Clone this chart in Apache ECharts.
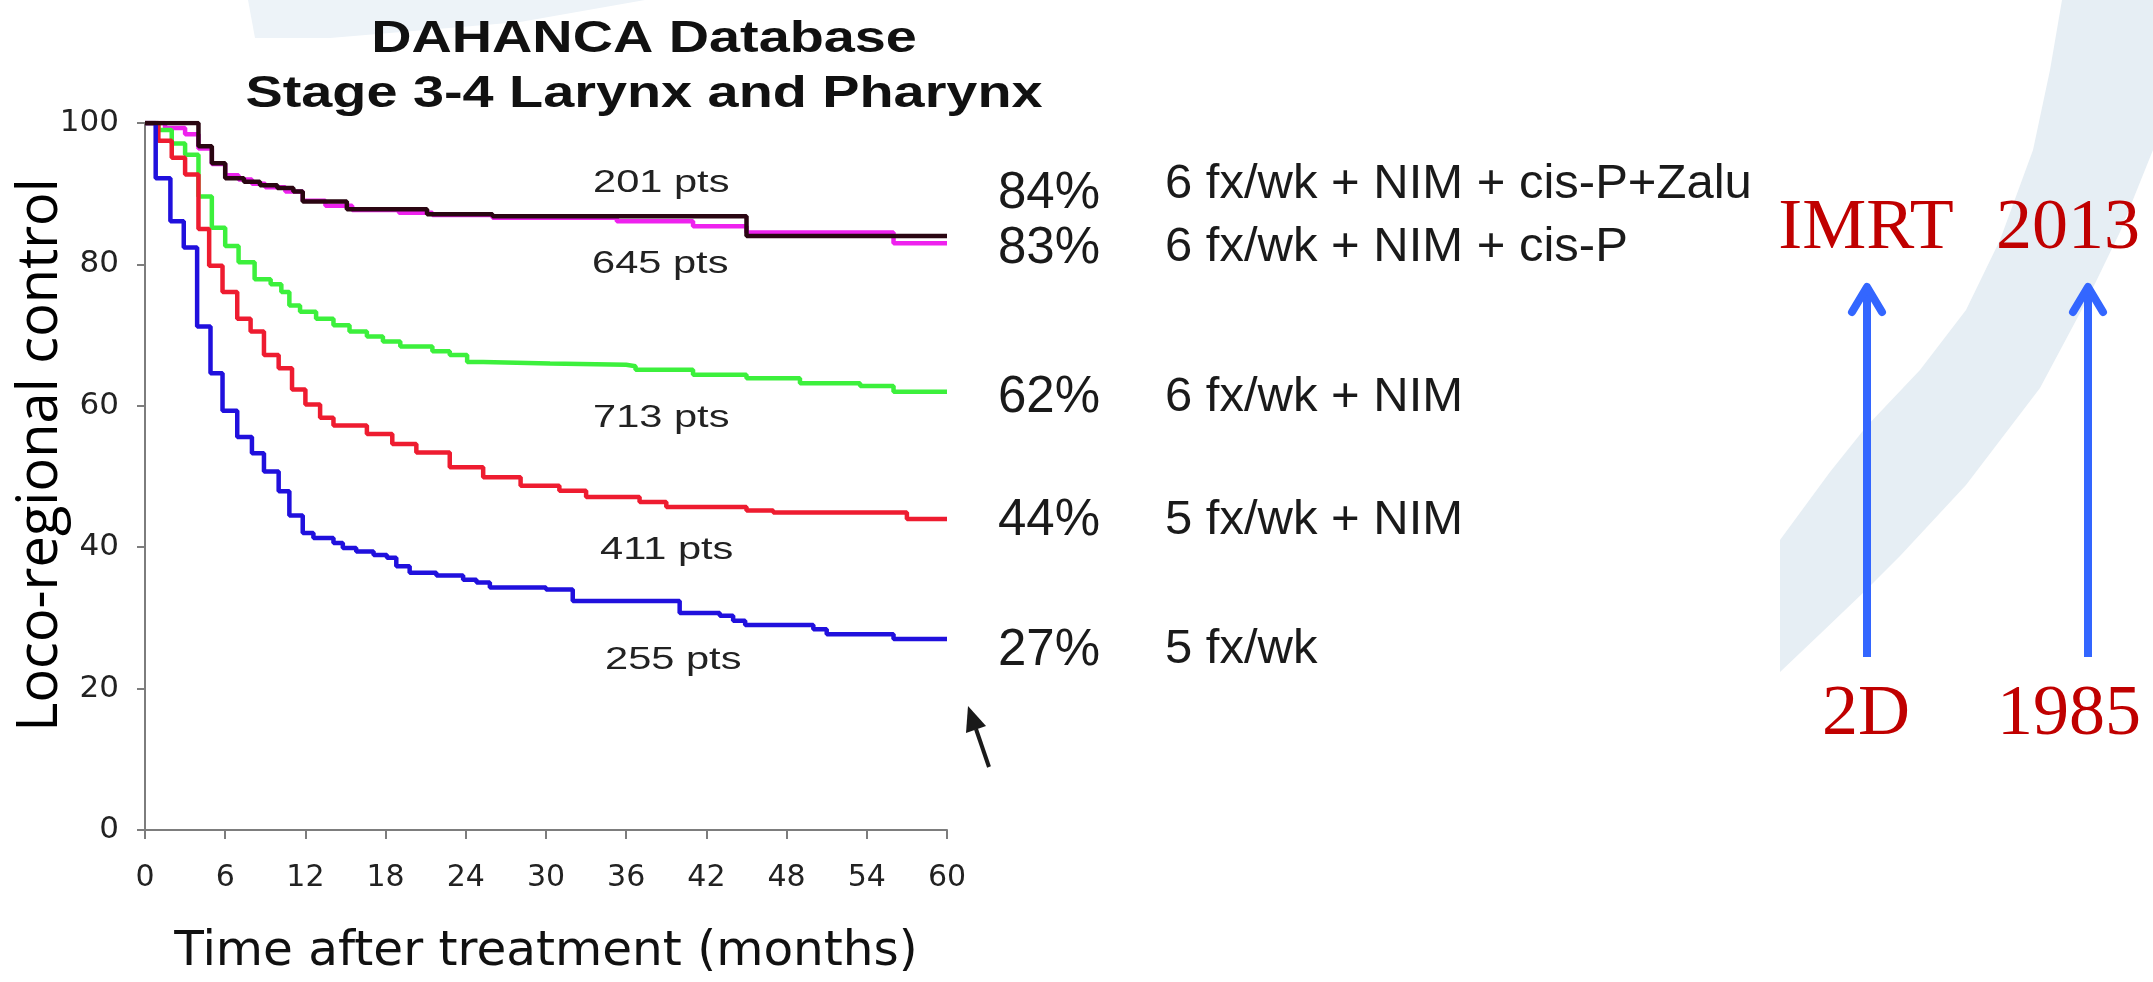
<!DOCTYPE html>
<html>
<head>
<meta charset="utf-8">
<script src="https://cdn.jsdelivr.net/npm/echarts@6/dist/echarts.min.js"></script>
<style>
  html, body { margin: 0; padding: 0; background: #ffffff; }
  #chart { width: 2153px; height: 982px; }
</style>
</head>
<body>
<div id="chart"></div>
<script>
// Loco-regional control (%) by month; each pair is [month, value after the step]
const zaluCurve = [[0,100],[4,96.7],[5,94.3],[6,92.2],[7.4,91.7],[8.6,91.2],[9.9,90.8],[11.1,90.3],[11.8,88.9],[15.1,87.8],[21.1,87.1],[26,86.8],[45,84],[60,84]];
const cisPCurve = [[0,100],[1.5,99.3],[3,98.4],[4,96.4],[5,94.2],[6,92.6],[7,92.0],[8,91.4],[9,90.9],[10.5,90.3],[11.8,89.0],[13.5,88.3],[15.5,87.7],[19,87.3],[21.5,87.0],[26,86.6],[35.3,86.1],[41,85.4],[45,84.5],[56,83],[60,83]];
const sixNimCurve = [[0,100],[1,99.0],[2,97.1],[3,95.5],[4,89.6],[5,85.2],[6,82.6],[7,80.3],[8.2,77.9],[9.4,77.2],[10.2,76.1],[10.8,74.2],[11.6,73.3],[12.8,72.3],[14.1,71.4],[15.3,70.5],[16.6,69.8],[17.8,69.1],[19.1,68.4],[21.5,67.7],[22.8,67.2],[24.1,66.2],[25.3,66.0],[30.3,65.8],[36,65.6],[36.7,65.1],[41,64.4],[45,63.9],[49,63.2],[53.5,62.8],[56,62],[60,62]];
const fiveNimCurve = [[0,100],[1,97.5],[2,95.1],[3,92.7],[4,85.0],[4.8,79.8],[5.8,76.1],[6.9,72.3],[7.9,70.5],[8.9,67.2],[10,65.3],[11,62.3],[12,60.2],[13.1,58.3],[14.1,57.2],[16.6,56.0],[18.5,54.6],[20.3,53.4],[22.8,51.3],[25.3,49.9],[28.1,48.7],[31,48.0],[33,47.1],[37,46.4],[39,45.7],[45,45.2],[47,44.9],[57,44],[60,44]];
const fiveCurve = [[0,100],[0.8,92.2],[1.9,86.1],[2.9,82.4],[3.9,71.2],[4.9,64.6],[5.8,59.3],[6.9,55.6],[8,53.3],[8.9,50.7],[10,47.9],[10.8,44.5],[11.8,42.0],[12.6,41.3],[14.1,40.6],[14.8,39.9],[15.8,39.4],[17.1,38.9],[18.1,38.5],[18.8,37.3],[19.8,36.4],[21.8,36.0],[23.8,35.4],[24.8,35.0],[25.8,34.3],[30,34.0],[32,32.4],[40,30.7],[43,30.3],[44,29.6],[44.9,29.0],[50,28.4],[51,27.7],[56,27],[60,27]];

const groupNames = ['6 fx/wk + NIM + cis-P+Zalu', '6 fx/wk + NIM + cis-P', '6 fx/wk + NIM', '5 fx/wk + NIM', '5 fx/wk'];
const patientCounts = ['201 pts', '645 pts', '713 pts', '411 pts', '255 pts'];
const fiveYearRates = [84, 83, 62, 44, 27];
const monthTicks = [0, 6, 12, 18, 24, 30, 36, 42, 48, 54, 60];
const controlTicks = [0, 20, 40, 60, 80, 100];
const eraLabels = ['IMRT', '2D', '2013', '1985'];

const curves = [zaluCurve, cisPCurve, sixNimCurve, fiveNimCurve, fiveCurve];
const curveColors = ['#2a0612', '#ee22ee', '#3cf03c', '#ee1c30', '#2010dd'];
const drawOrder = [1, 0, 2, 3, 4];

const chart = echarts.init(document.getElementById('chart'), null, { renderer: 'canvas' });

function txt(text, x, y, o) {
  return {
    type: 'text', x: x, y: y, z: 20,
    rotation: o.rotation || 0,
    scaleX: o.scaleX || 1,
    style: {
      text: text,
      fontSize: o.size,
      fontFamily: o.family || '"Liberation Sans", Arial, sans-serif',
      fontWeight: o.weight || 'normal',
      fill: o.color || '#1a1a1a',
      align: o.align || 'left', textAlign: o.align || 'left',
      verticalAlign: 'middle', textVerticalAlign: 'middle'
    }
  };
}

const serifRed = { size: 72, family: '"Liberation Serif", "Times New Roman", serif', color: '#c00000', align: 'center' };
const ptsStyle = { size: 32, scaleX: 1.3, color: '#222' };
const ptsPos = [[593, 183.6], [592, 264.5], [593, 418.6], [600, 550.6], [605, 660]];
const ratePos = [194, 249.3, 398, 521, 651];
const groupPos = [184.7, 247, 397.8, 520.5, 649.5];

const graphicEls = [
  // pale band of the slide background
  { type: 'polygon', z: 0, silent: true,
    shape: { points: [[1780,540],[1830,472],[1866,427],[1920,370],[1966,310],[2000,240],[2033,150],[2050,70],[2062,0],[2153,0],[2153,150],[2120,232],[2088,298],[2040,388],[1966,485],[1900,556],[1866,590],[1820,634],[1780,672]] },
    style: { fill: '#e6eef4' } },
  { type: 'polygon', z: 0, silent: true,
    shape: { points: [[248,0],[645,0],[520,22],[330,38],[255,38]] },
    style: { fill: '#edf3f8' } },
  // chart heading
  txt('DAHANCA Database', 644, 39.5, { size: 45, weight: 'bold', scaleX: 1.24, align: 'center', color: '#111' }),
  txt('Stage 3-4 Larynx and Pharynx', 644, 94.5, { size: 45, weight: 'bold', scaleX: 1.24, align: 'center', color: '#111' }),
  // vertical axis title
  txt('Loco-regional control', 41, 455, { size: 56, family: '"Open Sans", sans-serif', rotation: Math.PI / 2, align: 'center', color: '#000' }),
  // era arrows
  { type: 'line', z: 20, shape: { x1: 1867, y1: 657, x2: 1867, y2: 288 }, style: { stroke: '#3366ff', lineWidth: 8 } },
  { type: 'polyline', z: 20, shape: { points: [[1852,312],[1867,287],[1882,312]] }, style: { stroke: '#3366ff', lineWidth: 8, lineCap: 'round', lineJoin: 'round', fill: null } },
  { type: 'line', z: 20, shape: { x1: 2088, y1: 657, x2: 2088, y2: 288 }, style: { stroke: '#3366ff', lineWidth: 8 } },
  { type: 'polyline', z: 20, shape: { points: [[2073,312],[2088,287],[2103,312]] }, style: { stroke: '#3366ff', lineWidth: 8, lineCap: 'round', lineJoin: 'round', fill: null } },
  txt(eraLabels[0], 1866, 229, serifRed),
  txt(eraLabels[1], 1866, 715, serifRed),
  txt(eraLabels[2], 2068, 229, serifRed),
  txt(eraLabels[3], 2069, 715, serifRed),
  // small pointer under the 5-year column
  { type: 'line', z: 20, shape: { x1: 989, y1: 767, x2: 976, y2: 729 }, style: { stroke: '#1a1a1a', lineWidth: 4 } },
  { type: 'polygon', z: 20, shape: { points: [[968,706],[986,726],[966,733]] }, style: { fill: '#1a1a1a' } }
];

patientCounts.forEach(function (t, i) {
  graphicEls.push(txt(t, ptsPos[i][0], ptsPos[i][1], ptsStyle));
});
fiveYearRates.forEach(function (r, i) {
  graphicEls.push(txt(r + '%', 998, ratePos[i], { size: 51, color: '#1a1a1a' }));
  graphicEls.push(txt(groupNames[i], 1165, groupPos[i], { size: 49, color: '#1a1a1a' }));
});

const axisGray = '#7d7d7d';

const option = {
  animation: false,
  backgroundColor: '#ffffff',
  grid: { left: 145, right: 1206, top: 123, bottom: 146, containLabel: false },
  xAxis: {
    type: 'value',
    min: monthTicks[0], max: monthTicks[monthTicks.length - 1], interval: monthTicks[1] - monthTicks[0],
    axisLine: { show: true, lineStyle: { color: axisGray, width: 2 } },
    axisTick: { show: true, length: 9, lineStyle: { color: axisGray, width: 2 } },
    axisLabel: { fontFamily: '"DejaVu Sans", sans-serif', fontSize: 30, color: '#222', margin: 33 },
    splitLine: { show: false },
    name: 'Time after treatment (months)',
    nameLocation: 'middle', nameGap: 98,
    nameTextStyle: { fontFamily: '"DejaVu Sans", sans-serif', fontSize: 48.5, color: '#111' }
  },
  yAxis: {
    type: 'value',
    min: controlTicks[0], max: controlTicks[controlTicks.length - 1], interval: controlTicks[1] - controlTicks[0],
    axisLine: { show: true, lineStyle: { color: axisGray, width: 2 } },
    axisTick: { show: true, length: 8, lineStyle: { color: axisGray, width: 2 } },
    axisLabel: { fontFamily: '"DejaVu Sans", sans-serif', fontSize: 31, color: '#222', margin: 26 },
    splitLine: { show: false }
  },
  series: drawOrder.map(function (i) {
    return {
      name: groupNames[i],
      type: 'line',
      step: 'end',
      data: curves[i],
      showSymbol: false,
      symbol: 'none',
      lineStyle: { color: curveColors[i], width: 4.5 },
      z: 3 + (i === 0 ? 2 : 0)
    };
  }),
  graphic: { elements: graphicEls }
};

chart.setOption(option);
</script>
</body>
</html>
